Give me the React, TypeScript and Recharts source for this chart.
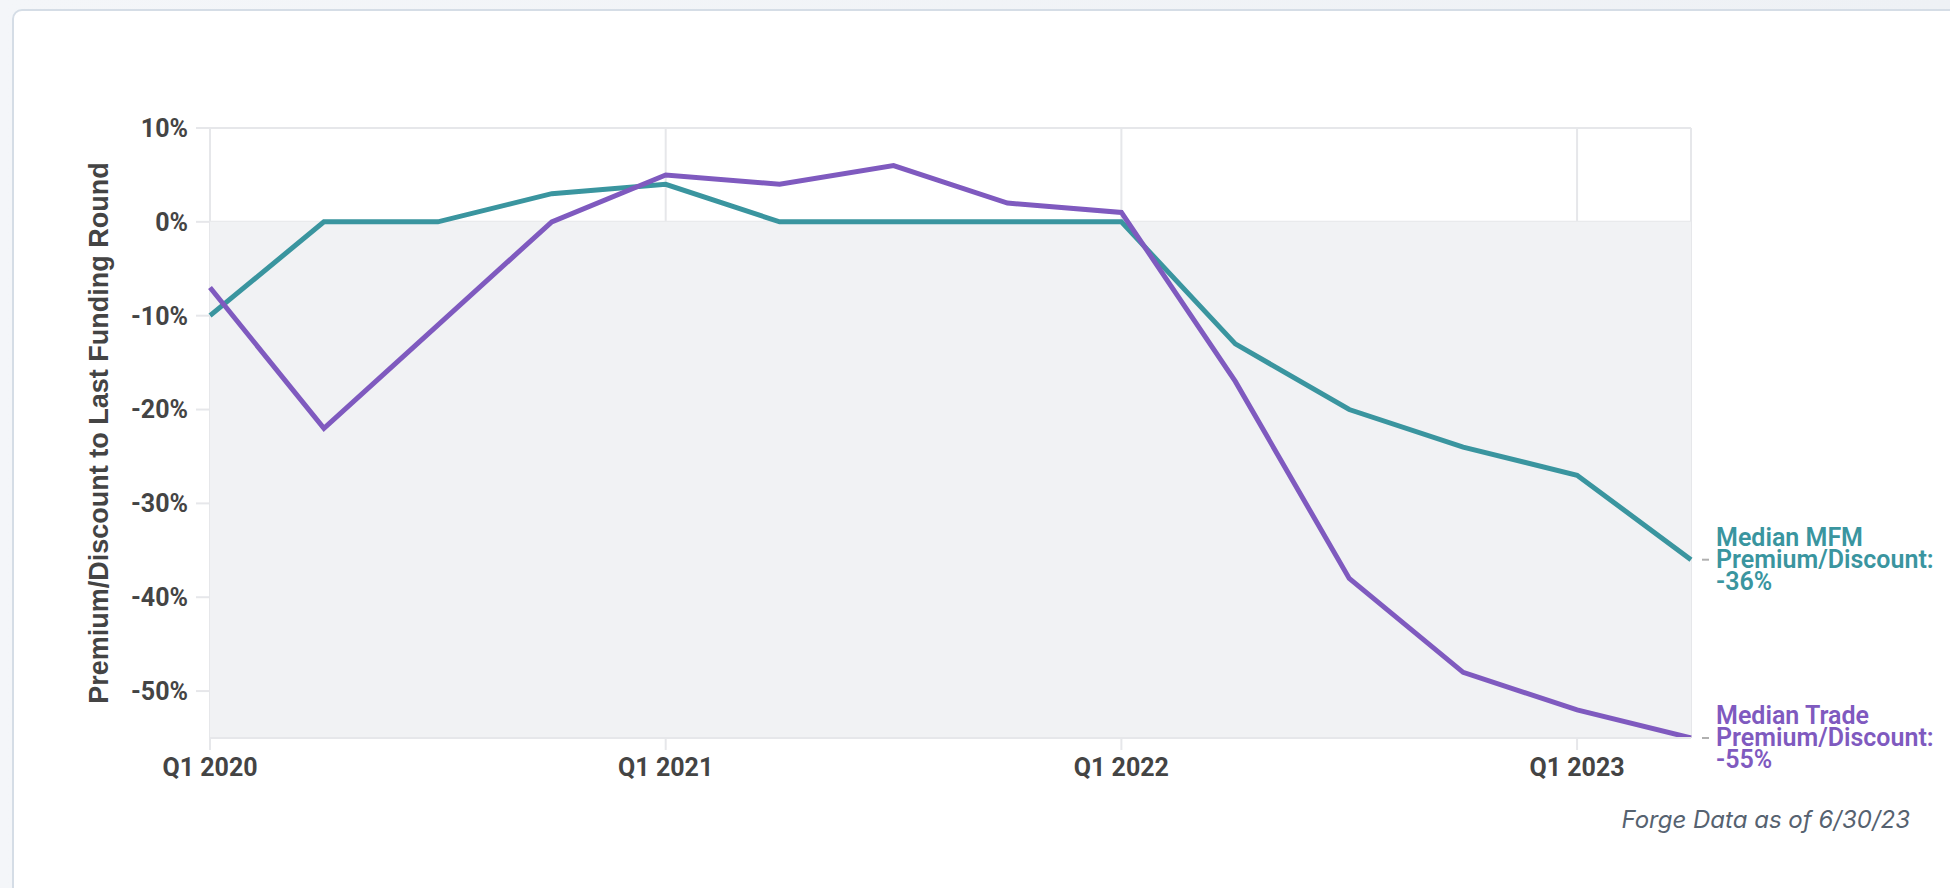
import React from 'react';
import { LineChart, Line, XAxis, YAxis, CartesianGrid, ReferenceArea, LabelList } from 'recharts';

const quarters = [
  'Q1 2020', 'Q2 2020', 'Q3 2020', 'Q4 2020',
  'Q1 2021', 'Q2 2021', 'Q3 2021', 'Q4 2021',
  'Q1 2022', 'Q2 2022', 'Q3 2022', 'Q4 2022',
  'Q1 2023', 'Q2 2023',
];
const mfmValues = [-10, 0, 0, 3, 4, 0, 0, 0, 0, -13, -20, -24, -27, -36];
const tradeValues = [-7, -22, -11, 0, 5, 4, 6, 2, 1, -17, -38, -48, -52, -55];
const yTicks = [-50, -40, -30, -20, -10, 0, 10];
const xTicks = ['Q1 2020', 'Q1 2021', 'Q1 2022', 'Q1 2023'];
const mfmLabel = ['Median MFM', 'Premium/Discount:', '-36%'];
const tradeLabel = ['Median Trade', 'Premium/Discount:', '-55%'];
const yTitle = 'Premium/Discount to Last Funding Round';
const footnote = 'Forge Data as of 6/30/23';

const data = quarters.map((q, i) => ({ q, mfm: mfmValues[i], trade: tradeValues[i] }));

const TEAL = '#3a959f';
const PURPLE = '#7f5abf';
const GRID = '#e6e7ea';
const TICK_STYLE = { fill: '#444444', fontSize: 25, fontFamily: 'Roboto', fontWeight: 700 };

const makeEndLabel = (lines: string[], color: string) => (props: any) => {
  const { x, y, index } = props;
  if (index !== data.length - 1) return null;
  const tx = x + 25;
  return (
    <g>
      <line x1={x + 11} x2={x + 18} y1={y} y2={y} stroke="#b0b0b0" strokeWidth={2} />
      {lines.map((t, i) => (
        <text
          key={i}
          x={tx}
          y={y - 14 + i * 22}
          fill={color}
          fontFamily="Roboto"
          fontWeight={600}
          fontSize={25}
        >
          {t}
        </text>
      ))}
    </g>
  );
};

const YTitle = (props: any) => {
  const vb = props.viewBox || {};
  const cx = vb.x + vb.width - 111;
  const cy = vb.y + vb.height / 2;
  return (
    <text
      x={cx}
      y={cy}
      transform={`rotate(-90, ${cx}, ${cy})`}
      textAnchor="middle"
      dominantBaseline="central"
      fill="#444444"
      fontFamily="Liberation Sans, Arial, sans-serif"
      fontWeight={700}
      fontSize={27}
    >
      {yTitle}
    </text>
  );
};

export default function App() {
  return (
    <div
      style={{
        position: 'fixed',
        left: 0,
        top: 0,
        width: 1950,
        height: 888,
        overflow: 'hidden',
        background: 'linear-gradient(90deg, #f4f6f9 0%, #eef1f5 100%)',
      }}
    >
      <div
        style={{
          position: 'absolute',
          left: 12,
          top: 9,
          width: 1980,
          height: 900,
          border: '2px solid #d5dde6',
          borderRadius: 10,
          background: '#ffffff',
          boxSizing: 'border-box',
        }}
      />
      <div style={{ position: 'absolute', left: 0, top: 0 }}>
        <LineChart
          width={1950}
          height={888}
          data={data}
          margin={{ top: 128, right: 259, bottom: 110, left: 110 }}
        >
          <ReferenceArea y1={-55} y2={0} fill="#f1f2f4" fillOpacity={1} stroke="none" />
          <CartesianGrid stroke={GRID} strokeWidth={2} />
          <XAxis
            dataKey="q"
            ticks={xTicks}
            interval={0}
            height={40}
            tickSize={12}
            tickMargin={8}
            tick={TICK_STYLE}
            tickLine={{ stroke: GRID, strokeWidth: 2 }}
            axisLine={{ stroke: GRID, strokeWidth: 2 }}
          />
          <YAxis
            width={100}
            domain={[-55, 10]}
            ticks={yTicks}
            allowDataOverflow
            tickFormatter={(v: number) => `${v}%`}
            tickSize={14}
            tickMargin={8}
            tick={TICK_STYLE}
            tickLine={{ stroke: GRID, strokeWidth: 2 }}
            axisLine={false}
            label={{ content: YTitle }}
          />
          <Line
            dataKey="mfm"
            type="linear"
            stroke={TEAL}
            strokeWidth={5}
            dot={false}
            activeDot={false}
            isAnimationActive={false}
          >
            <LabelList dataKey="mfm" content={makeEndLabel(mfmLabel, TEAL)} />
          </Line>
          <Line
            dataKey="trade"
            type="linear"
            stroke={PURPLE}
            strokeWidth={5}
            dot={false}
            activeDot={false}
            isAnimationActive={false}
          >
            <LabelList dataKey="trade" content={makeEndLabel(tradeLabel, PURPLE)} />
          </Line>
        </LineChart>
      </div>
      <div
        style={{
          position: 'absolute',
          right: 40,
          top: 805,
          fontFamily: 'Inter',
          fontStyle: 'italic',
          fontWeight: 400,
          fontSize: 24,
          color: '#566270',
          whiteSpace: 'nowrap',
        }}
      >
        {footnote}
      </div>
    </div>
  );
}
